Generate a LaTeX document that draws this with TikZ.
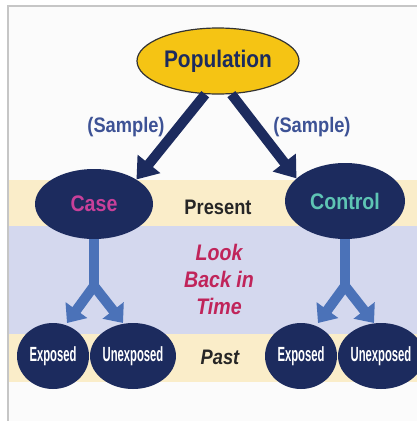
\documentclass[tikz,border=0pt]{standalone}
\usepackage{fontspec}
\setmainfont[FakeStretch=0.87]{Liberation Sans}
\newfontfamily\condfont[FakeStretch=0.55]{Liberation Sans}
\usetikzlibrary{shapes.geometric,arrows.meta,positioning}

\definecolor{navy}{HTML}{1C2B5E}
\definecolor{popyellow}{HTML}{F5C414}
\definecolor{branchblue}{HTML}{4B72B8}
\definecolor{sampleblue}{HTML}{3D5295}
\definecolor{lookred}{HTML}{C0245A}
\definecolor{casepink}{HTML}{C8409A}
\definecolor{ctrlteal}{HTML}{5EC4B4}
\definecolor{bandbeige}{HTML}{FAEDC9}
\definecolor{bandblue}{HTML}{D4D8EE}

\begin{document}
\begin{tikzpicture}[x=1pt,y=-1pt]
    \tikzstyle{band} = [draw=none];
    \tikzstyle{group} = [ellipse,fill=navy,inner sep=0pt,minimum width=118pt,
    minimum height=70pt,font=\bfseries\fontsize{22.5}{24}\selectfont];
    \tikzstyle{leaf} = [ellipse,fill=navy,inner sep=0pt,minimum width=72pt,
    minimum height=66pt,text=white,font=\condfont\bfseries\fontsize{20.5}{22}\selectfont,
    node distance=80pt];
    \tikzstyle{sample} = [navy,line width=10pt,-{Triangle[width=28pt,length=20pt]}];
    \tikzstyle{branch} = [branchblue,line width=10pt,line join=miter,
    -{Triangle[width=26pt,length=16pt]}];
    \tikzstyle{label} = [font=\bfseries\fontsize{21}{23}\selectfont];

    \useasboundingbox (0,0) rectangle (417,421);
    \fill[white] (0,0) rectangle (417,421);
    \fill[gray!3] (8,6) rectangle (417,421);
    \draw[gray!45,line width=1.5pt] (8,421) -- (8,6) -- (417,6);

    % time bands
    \fill[band,bandbeige] (9,180) rectangle (417,226);
    \fill[band,bandblue] (9,226) rectangle (417,334);
    \fill[band,bandbeige] (9,334) rectangle (417,382);

    \node[ellipse,name=pop,fill=popyellow,draw=black!80,line width=1.2pt,
    minimum width=162pt,minimum height=66pt,inner sep=0pt,text=navy,
    font=\bfseries\fontsize{24}{26}\selectfont] at (218,61) {Population};

    \node[group,name=case,text=casepink] at (94,204) {Case};
    \node[group,name=control,text=ctrlteal,minimum width=120pt,
    minimum height=76pt] at (345,201) {Control};

    \node[label,name=present,text=black!85] at (218,207) {Present};
    \node[label,name=look,text=lookred,font=\bfseries\itshape\fontsize{22.5}{27}\selectfont,
    align=center] at (219,279) {Look\\Back in\\Time};
    \node[label,name=past,text=black!85,font=\bfseries\itshape\fontsize{21}{23}\selectfont]
    at (220,357) {Past};

    \node[leaf,name=caseexp] at (53,356) {Exposed};
    \node[leaf,name=caseunexp,right of=caseexp] {Unexposed};
    \node[leaf,name=ctrlexp] at (301,356) {Exposed};
    \node[leaf,name=ctrlunexp,right of=ctrlexp] {Unexposed};

    \node[label,name=sampleleft,text=sampleblue] at (126,127) {(Sample)};
    \node[label,name=sampleright,text=sampleblue] at (312,127) {(Sample)};

    \path (pop.249) edge[sample] (case.30);
    \path (pop.292) edge[sample] (control.155);

    % look back branches
    \coordinate (casesplit) at (94,286);
    \coordinate (ctrlsplit) at (345,286);
    \coordinate (caseexptip) at (67,323);
    \coordinate (caseunexptip) at (123,323);
    \coordinate (ctrlexptip) at (318,323);
    \coordinate (ctrlunexptip) at (374,323);

    \draw[branchblue,line width=10pt] (case.south) -- (casesplit);
    \draw[branch] (casesplit) -- (caseexptip);
    \draw[branch] (casesplit) -- (caseunexptip);
    \draw[branchblue,line width=10pt] (control.south) -- (ctrlsplit);
    \draw[branch] (ctrlsplit) -- (ctrlexptip);
    \draw[branch] (ctrlsplit) -- (ctrlunexptip);

\end{tikzpicture}
\end{document}
